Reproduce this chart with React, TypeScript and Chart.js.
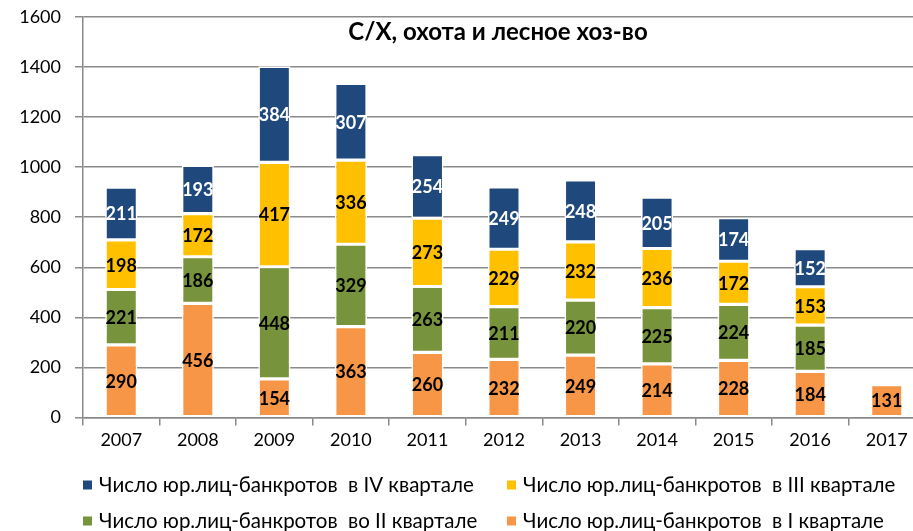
import React, { useEffect, useRef } from "react";
import { Chart, registerables } from "chart.js";

Chart.register(...registerables);

const years = ["2007", "2008", "2009", "2010", "2011", "2012", "2013", "2014", "2015", "2016", "2017"];
const q1 = [290, 456, 154, 363, 260, 232, 249, 214, 228, 184, 131];
const q2 = [221, 186, 448, 329, 263, 211, 220, 225, 224, 185, null];
const q3 = [198, 172, 417, 336, 273, 229, 232, 236, 172, 153, null];
const q4 = [211, 193, 384, 307, 254, 249, 248, 205, 174, 152, null];
const seriesLabels = [
  "Число юр.лиц-банкротов  в I квартале",
  "Число юр.лиц-банкротов  во II квартале",
  "Число юр.лиц-банкротов  в III квартале",
  "Число юр.лиц-банкротов  в IV квартале",
];
const seriesColors = ["#F79646", "#77933C", "#FFC000", "#1F497D"];
const labelColors = ["#000000", "#000000", "#000000", "#FFFFFF"];
const titleText = "С/Х, охота и лесное хоз-во";
const yTicks = [0, 200, 400, 600, 800, 1000, 1200, 1400, 1600];

const FONT = "Lato, 'Open Sans', sans-serif";
const GRID = "#8a8a8a";

const valueLabels = {
  id: "valueLabels",
  afterDatasetsDraw(chart: any) {
    const ctx = chart.ctx;
    ctx.save();
    ctx.font = `bold 18px ${FONT}`;
    ctx.textAlign = "center";
    ctx.textBaseline = "middle";
    chart.data.datasets.forEach((ds: any, di: number) => {
      const meta = chart.getDatasetMeta(di);
      meta.data.forEach((el: any, i: number) => {
        const v = ds.data[i];
        if (v == null) return;
        const p = el.getCenterPoint();
        ctx.fillStyle = labelColors[di];
        ctx.fillText(String(v), p.x, p.y + 1);
      });
    });
    ctx.restore();
  },
};

const titlePlugin = {
  id: "insideTitle",
  afterDraw(chart: any) {
    const ctx = chart.ctx;
    const a = chart.chartArea;
    ctx.save();
    ctx.font = `bold 24px ${FONT}`;
    ctx.fillStyle = "#000";
    ctx.textAlign = "center";
    ctx.textBaseline = "middle";
    ctx.fillText(titleText, (a.left + a.right) / 2 - 6, a.top + 15);
    ctx.restore();
  },
};

const legendPlugin = {
  id: "gridLegend",
  afterDraw(chart: any) {
    const ctx = chart.ctx;
    const a = chart.chartArea;
    const order = [3, 2, 1, 0];
    const colX = [a.left, a.left + 424];
    const rowY = [485, 521];
    ctx.save();
    ctx.font = `20.5px ${FONT}`;
    ctx.textBaseline = "middle";
    ctx.textAlign = "left";
    order.forEach((di, k) => {
      const x = colX[k % 2];
      const y = rowY[Math.floor(k / 2)];
      ctx.fillStyle = seriesColors[di];
      ctx.fillRect(x, y - 4.5, 9, 9);
      ctx.fillStyle = "#000";
      ctx.fillText(chart.data.datasets[di].label, x + 16, y);
    });
    ctx.restore();
  },
};

export default function App() {
  const ref = useRef<HTMLCanvasElement>(null);
  useEffect(() => {
    if (!ref.current) return;
    const mk = (data: any[], i: number) => ({
      label: seriesLabels[i],
      data,
      backgroundColor: seriesColors[i],
      borderColor: "#FFFFFF",
      borderWidth: 1.6,
      borderSkipped: false,
      barPercentage: 0.42,
      categoryPercentage: 1,
    });
    const chart = new Chart(ref.current, {
      type: "bar",
      data: {
        labels: years,
        datasets: [mk(q1, 0), mk(q2, 1), mk(q3, 2), mk(q4, 3)],
      },
      options: {
        animation: false,
        responsive: false,
        devicePixelRatio: 1,
        layout: { padding: { top: 17, bottom: 76, left: 0, right: 0 } },
        plugins: {
          legend: { display: false },
          tooltip: { enabled: false },
          title: { display: false },
        },
        scales: {
          x: {
            stacked: true,
            grid: {
              display: true,
              drawOnChartArea: false,
              drawTicks: true,
              tickLength: 8,
              color: GRID,
              lineWidth: 1.5,
            },
            border: { display: true, color: GRID, width: 1.5 },
            ticks: { font: { family: FONT, size: 18 }, color: "#000", padding: 4 },
          },
          y: {
            stacked: true,
            min: 0,
            max: 1600,
            afterFit: (s: any) => {
              s.width = 83;
              s.paddingTop = 0;
              s.paddingBottom = 0;
            },
            afterBuildTicks: (s: any) => {
              s.ticks = yTicks.map((v) => ({ value: v }));
            },
            grid: { color: GRID, lineWidth: 1.5, tickLength: 8 },
            border: { display: true, color: GRID, width: 1.5 },
            ticks: {
              font: { family: FONT, size: 18 },
              color: "#000",
              padding: 14,
              callback: (v: any) => String(v),
            },
          },
        },
      },
      plugins: [valueLabels, titlePlugin, legendPlugin],
    } as any);
    return () => chart.destroy();
  }, []);
  return (
    <div style={{ position: "fixed", top: 0, left: 0, width: 913, height: 531, overflow: "hidden", background: "#fff" }}>
      <canvas ref={ref} width={925} height={531} style={{ display: "block", width: 925, height: 531 }} />
    </div>
  );
}
